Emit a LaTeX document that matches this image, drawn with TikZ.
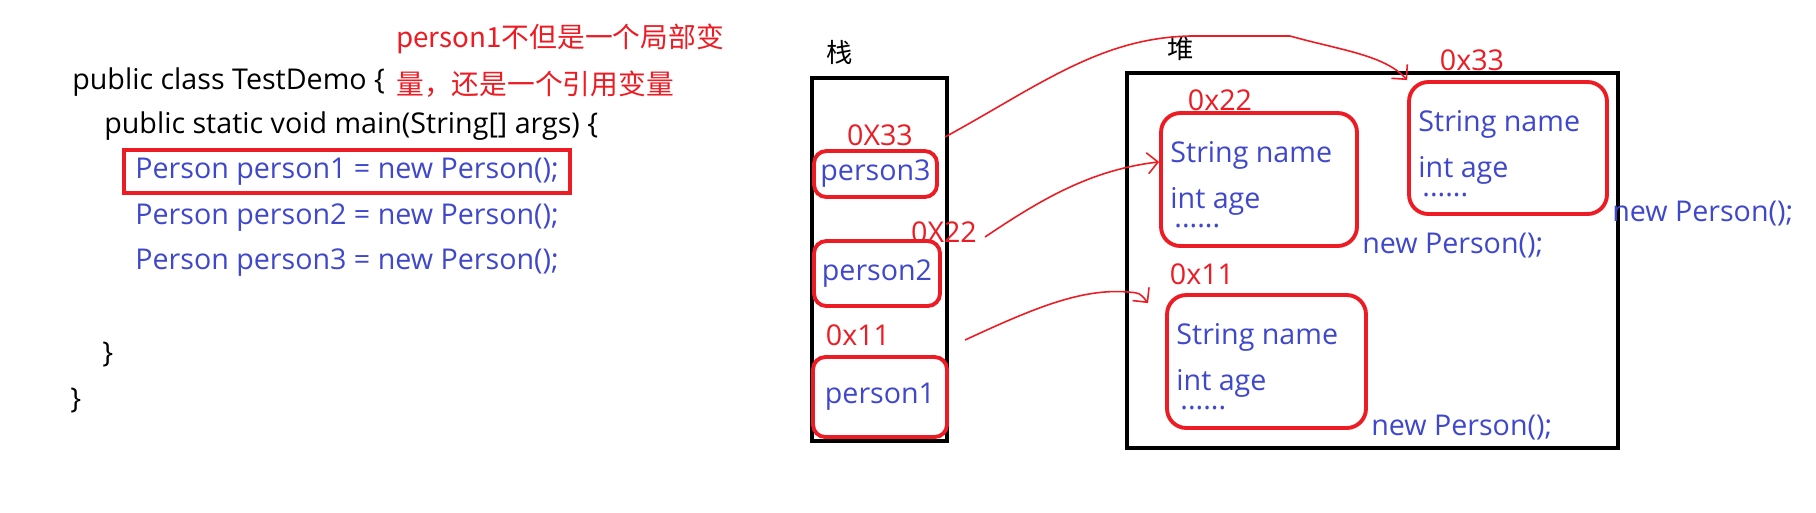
\documentclass[tikz,border=0pt]{standalone}
\usepackage{fontspec}
\setmainfont{Open Sans}
\newfontfamily\cjk{Noto Sans CJK SC}
\usepackage{tikz}
\usetikzlibrary{arrows.meta,positioning,calc,fit}
\definecolor{paintred}{RGB}{237,28,36}
\definecolor{paintblue}{RGB}{63,72,204}
\newcommand\codesize{\fontsize{16.3pt}{19pt}\selectfont}

\begin{document}
\begin{tikzpicture}[
    x=0.02cm, y=-0.02cm,
    code/.style={anchor=base west, inner sep=0pt, font=\codesize},
    note/.style={anchor=base west, inner sep=0pt, text=paintred, font=\cjk\fontsize{15.8pt}{18pt}\selectfont},
    title/.style={font=\cjk\fontsize{15pt}{18pt}\selectfont},
    frame/.style={draw, line width=2.2pt, inner sep=0pt},
    codeframe/.style={draw=paintred, line width=2.2pt, inner xsep=0.22cm, inner ysep=0.15cm},
    varbox/.style={draw=paintred, line width=2.2pt, rounded corners=7pt, text=paintblue, font=\codesize, inner sep=0pt},
    objbox/.style={draw=paintred, line width=2.2pt, rounded corners=11pt, inner sep=0pt},
    addr/.style={text=paintred, font=\codesize, inner sep=0pt},
    field/.style={text=paintblue, font=\codesize, inner sep=0pt},
    ref/.style={draw=paintred, line width=0.9pt, -{Straight Barb[length=6pt,width=12pt]}}
]
\useasboundingbox[fill=white] (0,0) rectangle (1816,512);

% code
\node[code] (cls) at (72,89) {public class TestDemo \{};
\node[code] (mainm) at (104,133) {public static void main(String[] args) \{};
\node[code, text=paintblue] (line1) at (135,178) {Person person1 = new Person();};
\node[code, text=paintblue] (line2) at (135,224) {Person person2 = new Person();};
\node[code, text=paintblue] (line3) at (135,269) {Person person3 = new Person();};
\node[code] (close1) at (102,362) {\}};
\node[code] (close2) at (70,408) {\}};
\node[codeframe, fit=(line1)] (line1box) {};

\node[note] (note1) at (396,47) {person1不但是一个局部变};
\node[note] (note2) at (396,94) {量，还是一个引用变量};

% stack
\node[title] (stacktitle) at (840,52) {栈};
\node[frame, minimum width=2.7cm, minimum height=7.26cm] (stack) at (879.5,259.5) {};
\node[varbox, minimum width=2.46cm, minimum height=0.92cm] (v3) at (875.5,174) {person3};
\node[varbox, minimum width=2.52cm, minimum height=1.3cm] (v2) at (877,273.5) {person2};
\node[varbox, minimum width=2.68cm, minimum height=1.6cm] (v1) at (880,397) {person1};
\node[addr] (a3) at (880,135) {0X33};
\node[addr] (a2) at (944,232) {0X22};
\node[addr] (a1) at (858,335) {0x11};

% heap
\node[title] (heaptitle) at (1181,49) {堆};
\node[frame, minimum width=9.82cm, minimum height=7.5cm] (heap) at (1372.5,260.5) {};
\node[objbox, minimum width=3.92cm, minimum height=2.66cm] (o22) at (1259,179.5) {};
\node[objbox, minimum width=3.96cm, minimum height=2.64cm] (o33) at (1508,148) {};
\node[objbox, minimum width=3.98cm, minimum height=2.66cm] (o11) at (1266.5,361.5) {};
\node[addr] (h22) at (1220,100) {0x22};
\node[addr] (h33) at (1472,60) {0x33};
\node[addr] (h11) at (1202,274) {0x11};
\foreach \o in {o22,o33,o11} {
  \node[field, anchor=west] (\o-name) at ($(\o.north west)+(11,44)$) {String name};
  \node[field, anchor=west] (\o-age) at ($(\o.north west)+(11,90)$) {int age};
  \node[field, anchor=base west] (\o-dots) at ($(\o.north west)+(15,116)$) {......};
  \node[field, anchor=west] (\o-new) at ($(\o.south east)+(3,-2)$) {new Person();};
}

% references
\coordinate (s3) at (945,137);
\coordinate (s2) at (985,237);
\coordinate (s1) at (965,340);
\coordinate (t11) at ($(o11.north west)+(-17,10)$);
\draw[ref] (s3) .. controls (1040,85) and (1100,38) .. (1190,36) -- (1290,36) .. controls (1340,50) and (1385,55) .. (o33.north west);
\draw[ref] (s2) .. controls (1040,200) and (1090,170) .. (o22.170);
\draw[ref] (s1) .. controls (1030,310) and (1080,288) .. (1128,292) .. controls (1140,293) .. (t11);
\end{tikzpicture}
\end{document}
